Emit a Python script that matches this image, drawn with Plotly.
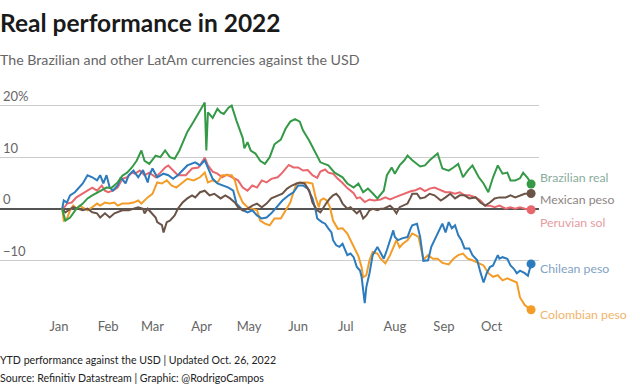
import pandas as pd
import plotly.graph_objects as go

# ---- data: YTD % change vs USD, days counted from 2022-01-01 ----
base_date = "2022-01-01"

brl_day = [2,4,7,11,15,18,21,26,30,33,37,40,43,46,49,52,54,57,61,64,67,70,73,76,78,81,85,89,92,93,
           94,97,100,102,104,107,109,112,116,117,119,121,124,127,130,133,136,140,143,146,149,152,154,158,162,165,170,174,179,182,
           186,189,192,195,198,201,205,207,210,212,215,218,220,223,228,231,234,236,239,242,246,249,252,255,258,261,265,268,271,274,
           277,280,283,285,288,291,293,296,298]
brl_val = [0,-2.3,-1.7,0,1,2,2.6,3.5,4.1,4,5.1,6.4,7,8,9.3,11.3,9.3,8.7,10.3,10,11.3,10,9.7,11.3,12.7,14.9,16.9,19,20.6,11.3,
           18.7,17.6,19.4,18.7,18.4,19.6,20,17.1,13.7,11.7,12.9,11.3,10.7,9.3,8.7,10,12.5,13.4,15.5,16.9,17.4,16.9,15.2,13.2,10.7,9,8.4,7,6.1,4.9,
           4.1,4.9,3.2,3.9,3,2,3.5,6.5,8,6.8,8.4,9.4,10.3,9.4,8.2,8.4,9.4,10,10.7,7.8,7.4,8,8.7,6.1,7.4,8.4,6.1,4.9,3.2,6.1,
           8.4,6.8,7,5.5,5.5,5.9,7,5.9,4.8]

mxn_day = [2,4,6,9,12,15,18,21,24,26,29,32,35,37,40,44,47,50,53,54,56,57,61,62,65,66,68,70,73,75,
           78,81,84,86,89,92,95,98,102,105,108,111,113,116,119,122,125,128,131,134,138,141,144,147,150,152,155,158,160,163,
           165,167,169,171,173,175,177,179,182,184,186,188,190,192,194,196,198,201,203,205,207,209,211,213,215,217,220,222,223,226,
           228,231,234,237,241,244,247,250,253,256,259,263,266,269,272,275,278,282,285,288,291,294,298]
mxn_val = [0,-0.7,-0.3,0.3,0,-0.3,0,-0.7,-0.9,-1.7,-0.9,-1.7,-0.9,-0.7,-0.3,-0.3,0,0.3,0,-0.9,0,-0.3,-1.7,-2.6,-3.2,-4.6,-2.6,-2.3,-1.3,0,
           1.2,2,2.6,2.2,3.2,3.5,2.6,2.9,2,2.6,2,1.2,0.3,-0.3,0,0.6,1,0.3,1,2,2.6,2.9,3.9,4.5,4.9,5.1,4.9,3.5,1.2,-0.3,
           -0.7,0.3,1.2,2,2.6,2.9,2.2,1,0,0.3,-0.3,-0.9,-0.3,-1.9,-1.3,-0.3,0,-0.3,0,0,0.3,0.6,0,-0.9,0.3,0.6,1,2.2,2.9,2.9,
           2,2.2,2.9,2.6,1.6,2.2,2.9,2,2.6,2.6,2,2.2,1.2,0.6,1.2,2,2.2,2.2,2.6,2.2,2.6,2.9,2.95]

pen_day = [2,4,5,8,11,15,18,21,24,27,29,31,34,37,40,43,46,48,51,54,57,61,64,67,69,72,75,80,84,88,
           92,94,97,100,103,106,109,113,116,119,122,125,128,131,134,138,141,145,148,151,154,157,160,163,165,168,170,173,176,179,
           182,186,188,190,193,196,199,203,206,209,212,215,218,222,225,228,231,234,237,241,244,247,250,253,256,259,263,266,269,272,
           275,278,282,285,288,291,294,298]
pen_val = [0,0.5,1,1.2,2.2,2.9,3.5,4.1,3.5,4.5,3.5,3.2,3.5,4.1,5.8,6.1,7,6.8,7.4,6.5,7,6.1,7,8,8.4,7.4,6.5,6.5,7.8,8,
           9.9,8.4,7.2,6.8,6.1,6.6,6.1,5.5,4.1,3.5,4.5,4.1,5.5,5.1,5.8,6.1,7,8.5,8,8,7.4,7.5,6.5,6,7.2,7.6,7,6.8,5.8,5,
           4,3,2,2.2,1.3,1.8,1.6,1.8,2.2,1.8,2.2,2.6,3,3.4,3.6,4,3.4,3.9,4.1,3.5,3.2,3.2,2.9,3.2,2.6,2.6,2.2,1.6,0.6,0.6,
           0.3,0.6,0,0.3,0,0.3,0,-0.2]

clp_day = [2,3,5,7,10,13,15,18,21,24,26,28,30,32,34,37,39,42,44,47,50,53,56,57,59,62,66,69,72,75,
           78,81,86,89,92,94,97,100,104,107,110,112,116,119,122,125,128,131,134,138,141,145,148,151,154,157,160,162,163,166,
           168,170,172,173,175,177,179,182,184,186,188,190,191,193,194,196,198,201,203,205,207,209,211,212,214,217,220,222,223,226,
           228,230,233,235,237,239,242,244,246,248,250,252,254,256,259,261,264,266,268,270,272,274,277,278,280,283,285,287,289,291,
           294,296,298]
clp_val = [0,1.6,1.2,2.6,3.2,4.1,4.9,6.5,6.1,5.5,6.5,4.9,6.5,4.1,3.5,4.5,6.1,4.9,6.5,7.4,6.1,7.5,5.1,6.5,7.8,6.1,6.8,6.5,5.8,6.5,
           7.4,8.4,9,8.4,9.4,8,5.8,4.9,4.5,4.1,3.5,1,-0.3,-0.7,-0.3,-1.3,-1.9,-1.7,-0.9,0.6,1.6,2.6,3.2,4.5,4.5,3.9,2,-0.3,-1.9,-2.6,
           -2.9,-3.8,-4.6,-6.1,-7.1,-7.4,-6.8,-9,-8.7,-9.4,-11.3,-12,-13.2,-18.3,-15.2,-12.5,-9,-7.4,-8.7,-9.7,-8,-6.1,-4.2,-5.5,-6.1,-5.7,-5.5,-3.8,-3.2,-2.9,
           -5.5,-10.1,-10,-7.4,-6.1,-4.8,-2.9,-4.6,-2.6,-3.8,-3.2,-5.1,-6.1,-7.7,-7.7,-9,-10,-12.3,-14.3,-12.5,-11.3,-11,-9,-9.7,-9.4,-9.7,-11,-11.6,-12.5,-12,
           -12.5,-13,-10.7]

cop_day = [2,3,5,7,9,11,13,15,18,21,24,26,29,32,35,37,40,44,47,50,52,56,59,62,65,68,71,74,78,81,
           85,89,92,94,97,100,103,106,109,111,113,116,119,122,125,127,130,133,136,140,143,146,148,150,154,157,160,162,164,165,
           167,169,171,173,176,179,182,184,186,189,191,192,194,196,198,201,203,206,209,211,213,215,217,220,223,225,227,230,233,236,
           239,242,246,249,252,255,258,261,265,268,271,274,277,280,283,286,289,291,294,298]
cop_val = [0,-2.3,-1.9,-0.3,0.6,0,0.6,0.3,-0.3,0.3,1,0.6,1.2,1,1.2,0.6,1,1,1.2,1.6,1,2.2,2.9,5.1,4.9,5.5,4.5,4.1,5.1,5.8,
           5.5,6.1,7,5.1,5.5,5.1,6.5,6.5,6.5,5.5,3.2,1.2,0.3,0,-0.3,-2.3,-2.9,-3.2,-1.9,-1.9,-0.3,1.2,3.2,4.9,5.1,5.1,4.9,2.2,0.3,1.6,
           2,1.6,0.3,-2.3,-3.9,-3.8,-4.8,-6,-7.5,-9.2,-11.3,-13.3,-12.9,-10,-8.4,-8.7,-9.7,-10.6,-9,-7.4,-6.1,-7.5,-6.8,-6.1,-4.8,-5.1,-5.5,-9.8,-9,-9.7,
           -9.7,-10.5,-10.8,-9.7,-9,-8.7,-9.7,-10,-10.6,-11,-12.5,-13.2,-12.9,-13.9,-13.5,-13.9,-14.3,-17.2,-18.7,-19.6]

series_names = ["Peruvian sol", "Colombian peso", "Chilean peso", "Mexican peso", "Brazilian real"]
series_days = [pen_day, cop_day, clp_day, mxn_day, brl_day]
series_vals = [pen_val, cop_val, clp_val, mxn_val, brl_val]
line_colors = ["#e8676c", "#f39c28", "#2b7bbd", "#6b5447", "#359a48"]
label_colors = ["#e59ca0", "#f0b46a", "#82a3c3", "#8c8581", "#8aac9c"]
label_y = [-2.6, -20.5, -11.6, 1.8, 6.0]

month_ticks = ["2022-01-01", "2022-02-01", "2022-03-01", "2022-04-01", "2022-05-01",
               "2022-06-01", "2022-07-01", "2022-08-01", "2022-09-01", "2022-10-01"]
month_labels = ["Jan", "Feb", "Mar", "Apr", "May", "Jun", "Jul", "Aug", "Sep", "Oct"]
y_ticks = [-10, 0, 10, 20]
y_labels = ["\u221210", "0", "10", "20%"]

W, H = 640, 388
MT, MB, ML, MR = 85, 71, 0, 101
FONT = "Lato"


def py(p):
    """pixel row -> paper y"""
    return (H - MB - p) / (H - MT - MB)


fig = go.Figure()
base = pd.Timestamp(base_date)
for name, d, v, c in zip(series_names, series_days, series_vals, line_colors):
    dates = base + pd.to_timedelta(d, unit="D")
    fig.add_trace(go.Scatter(x=dates, y=v, mode="lines", name=name,
                             line=dict(color=c, width=2), cliponaxis=False))
    fig.add_trace(go.Scatter(x=[dates[-1]], y=[v[-1]], mode="markers",
                             marker=dict(color=c, size=9), cliponaxis=False))

for name, c, ly in zip(series_names, label_colors, label_y):
    fig.add_annotation(x=1, xref="paper", y=ly, yref="y", text=name, showarrow=False,
                       xanchor="left", yanchor="middle", xshift=-1,
                       font=dict(family=FONT, size=12.3, color=c))

fig.add_annotation(x=0, xref="paper", y=py(22), yref="paper", text="<b>Real performance in 2022</b>",
                   showarrow=False, xanchor="left", yanchor="middle", xshift=-2,
                   font=dict(family=FONT, size=24.5, color="#1a1a1a"))
fig.add_annotation(x=0, xref="paper", y=py(60), yref="paper",
                   text="The Brazilian and other LatAm currencies against the USD",
                   showarrow=False, xanchor="left", yanchor="middle", xshift=-2,
                   font=dict(family=FONT, size=14.2, color="#666666"))
fig.add_annotation(x=0, xref="paper", y=py(360), yref="paper",
                   text="YTD performance against the USD | Updated Oct. 26, 2022",
                   showarrow=False, xanchor="left", yanchor="middle", xshift=-2,
                   font=dict(family=FONT, size=10.6, color="#222222"))
fig.add_annotation(x=0, xref="paper", y=py(378), yref="paper",
                   text="Source: Refinitiv Datastream | Graphic: @RodrigoCampos",
                   showarrow=False, xanchor="left", yanchor="middle", xshift=-2,
                   font=dict(family=FONT, size=10.6, color="#222222"))

fig.update_layout(
    width=W, height=H, margin=dict(l=ML, r=MR, t=MT, b=MB),
    paper_bgcolor="white", plot_bgcolor="white", showlegend=False,
    font=dict(family=FONT, color="#666666", size=13),
    xaxis=dict(range=["2021-11-24 18:00", "2022-10-31"], tickvals=month_ticks, ticktext=month_labels,
               showgrid=False, zeroline=False, showline=False, ticks="",
               tickfont=dict(family=FONT, size=13, color="#666666")),
    yaxis=dict(range=[-21, 24], tickvals=y_ticks, ticktext=y_labels,
               ticklabelposition="inside top", showgrid=True, gridcolor="#cccccc", gridwidth=1,
               zeroline=True, zerolinecolor="#555555", zerolinewidth=2, showline=False, ticks="",
               tickfont=dict(family=FONT, size=13, color="#666666")),
)

fig.write_html("out.html", config={"displayModeBar": False},
               post_script="document.body.style.margin='0';document.body.style.padding='0';")
